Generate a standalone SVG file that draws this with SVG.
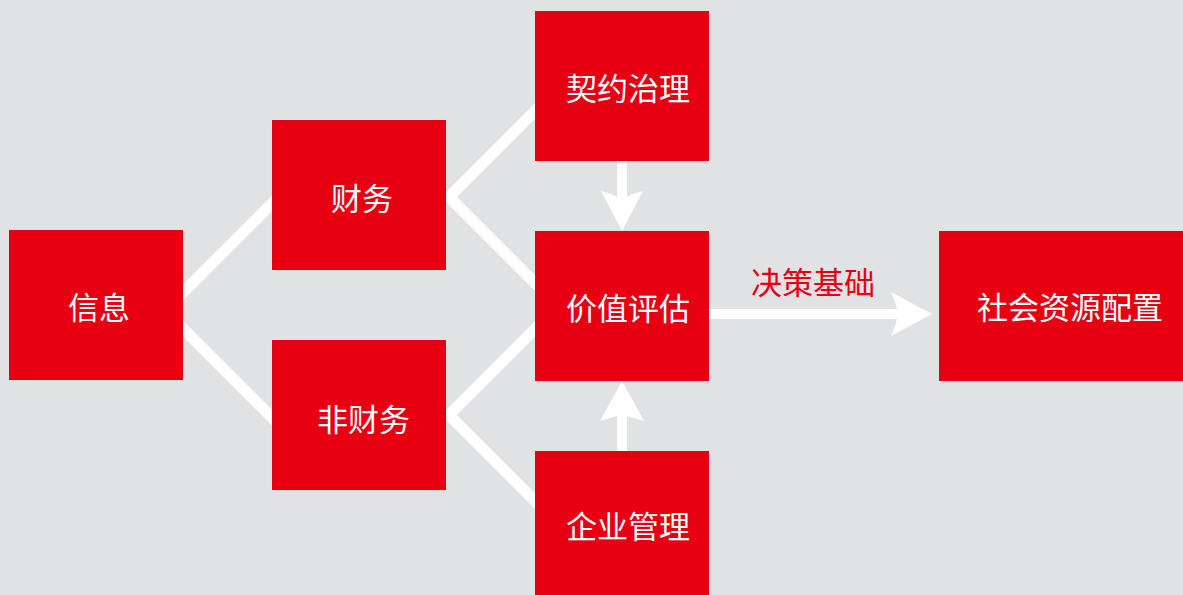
<svg xmlns="http://www.w3.org/2000/svg" width="1183" height="595" viewBox="0 0 1183 595">
<style>
.box{fill:#e60012}
.lbl{font-family:"Noto Sans CJK SC","Noto Sans",sans-serif;font-size:31px;fill:#ffffff}
.edge{fill:none;stroke:#ffffff;stroke-width:11;stroke-linejoin:miter}
.arr{fill:#ffffff}
.elbl{font-family:"Noto Sans CJK SC","Noto Sans",sans-serif;font-size:31px;fill:#e60012}
</style>
<rect x="0" y="0" width="1183" height="595" fill="#e1e2e4"/>
<g id="connectors">
<polyline class="edge" points="280,195.5 165,310.5 280,425.5"/>
<polyline class="edge" points="543,103 449,197 543,291"/>
<polyline class="edge" points="543,321 449,415 543,509"/>
<path class="arr" d="M617,161 H627 V197 Q634,193 643,191 L622,231 L601,191 Q610,193 617,197 Z"/>
<path class="arr" d="M617,451 V416 Q610,418 600,421 L622,381 L644,421 Q634,418 627,416 V451 Z"/>
<path class="arr" d="M709,309 H897 Q895,301 891,292 L932,314 L891,336 Q895,327 897,319 H709 Z"/>
<text class="elbl" x="751" y="293.5">决策基础</text>
</g>
<g id="node-xinxi"><rect class="box" x="9" y="230" width="174" height="150"/><text class="lbl" x="68" y="319">信息</text></g>
<g id="node-caiwu"><rect class="box" x="272" y="120" width="174" height="150"/><text class="lbl" x="331" y="210">财务</text></g>
<g id="node-feicaiwu"><rect class="box" x="272" y="340" width="174" height="150"/><text class="lbl" x="317" y="431">非财务</text></g>
<g id="node-qiyue"><rect class="box" x="535" y="11" width="174" height="150"/><text class="lbl" x="566" y="99.5">契约治理</text></g>
<g id="node-jiazhi"><rect class="box" x="535" y="231" width="174" height="150"/><text class="lbl" x="566" y="319.5">价值评估</text></g>
<g id="node-qiye"><rect class="box" x="535" y="451" width="174" height="150"/><text class="lbl" x="566" y="537.5">企业管理</text></g>
<g id="node-shehui"><rect class="box" x="939" y="231" width="250" height="150"/><text class="lbl" x="977" y="319">社会资源配置</text></g>
</svg>
